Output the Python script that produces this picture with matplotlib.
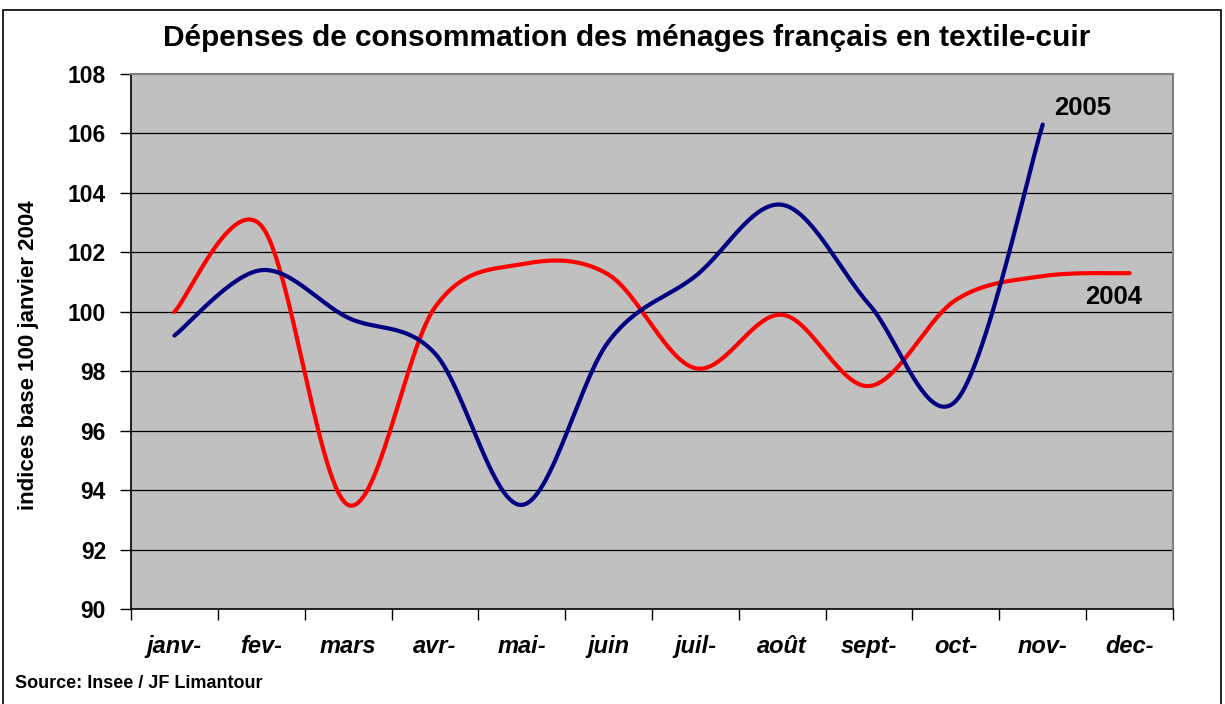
import numpy as np
import matplotlib
matplotlib.use("Agg")
import matplotlib.pyplot as plt
from matplotlib.patches import Rectangle

plt.rcParams['font.family'] = ['Liberation Sans', 'DejaVu Sans']

months = ["janv-", "fev-", "mars", "avr-", "mai-", "juin", "juil-", "août",
          "sept-", "oct-", "nov-", "dec-"]
values_2004 = [100.0, 102.9, 93.5, 100.15, 101.6, 101.25, 98.1, 99.9, 97.5, 100.4, 101.2, 101.3]
values_2005 = [99.2, 101.4, 99.8, 98.6, 93.5, 99.0, 101.2, 103.6, 100.25, 97.0, 106.3]
yticks = list(range(90, 109, 2))


def smooth(xs, ys, n=30):
    """Excel-like smoothed line (Catmull-Rom Bezier through the points)."""
    xs = np.asarray(xs, float)
    ys = np.asarray(ys, float)
    px = np.concatenate([[xs[0]], xs, [xs[-1]]])
    py = np.concatenate([[ys[0]], ys, [ys[-1]]])
    ox, oy = [], []
    t = np.linspace(0, 1, n)
    for i in range(1, len(px) - 2):
        x0, x1, x2, x3 = px[i - 1], px[i], px[i + 1], px[i + 2]
        y0, y1, y2, y3 = py[i - 1], py[i], py[i + 1], py[i + 2]
        cx1, cy1 = x1 + (x2 - x0) / 6, y1 + (y2 - y0) / 6
        cx2, cy2 = x2 - (x3 - x1) / 6, y2 - (y3 - y1) / 6
        bx = (1 - t) ** 3 * x1 + 3 * (1 - t) ** 2 * t * cx1 + 3 * (1 - t) * t ** 2 * cx2 + t ** 3 * x2
        by = (1 - t) ** 3 * y1 + 3 * (1 - t) ** 2 * t * cy1 + 3 * (1 - t) * t ** 2 * cy2 + t ** 3 * y2
        if i > 1:
            bx, by = bx[1:], by[1:]
        ox.extend(bx)
        oy.extend(by)
    return np.array(ox), np.array(oy)


W, H = 1225, 704
fig = plt.figure(figsize=(W / 100, H / 100), dpi=100)
fig.patch.set_facecolor('white')

# figure frame
fig.patches.append(Rectangle((3 / W, -0.01), (1221 - 3) / W, (H - 10) / H + 0.01,
                             transform=fig.transFigure, fill=False,
                             edgecolor='black', linewidth=1.2))

ax = fig.add_axes([131 / W, (H - 609) / H, (1173 - 131) / W, (609 - 74) / H])
ax.set_facecolor('#C0C0C0')

x04 = np.arange(len(values_2004))
x05 = np.arange(len(values_2005))
sx, sy = smooth(x04, values_2004)
ax.plot(sx, sy, color='#FF0000', linewidth=3.0, solid_capstyle='round', zorder=3)
sx, sy = smooth(x05, values_2005)
ax.plot(sx, sy, color='#000080', linewidth=3.0, solid_capstyle='round', zorder=4)

ax.set_xlim(-0.5, len(months) - 0.5)
ax.set_ylim(90, 108)
ax.set_yticks(yticks)
ax.set_yticklabels([str(v) for v in yticks], fontsize=16.5, fontweight='bold')
for v in yticks[1:-1]:
    ax.axhline(v, color='black', linewidth=0.9, zorder=1)

ax.set_xticks(np.arange(-0.5, len(months), 1.0))
ax.set_xticklabels([])
ax.set_xticks(np.arange(len(months)), minor=True)
ax.set_xticklabels(months, minor=True, fontsize=17, fontweight='bold', style='italic')
ax.tick_params(axis='x', which='minor', length=0, pad=19)
ax.tick_params(axis='x', which='major', length=8, width=1, direction='out', color='black')
ax.tick_params(axis='y', length=8, width=1, direction='out', color='black', pad=10)

for s in ['top', 'right']:
    ax.spines[s].set_color('#808080')
    ax.spines[s].set_linewidth(1.5)
for s in ['left', 'bottom']:
    ax.spines[s].set_color('black')
    ax.spines[s].set_linewidth(1.2)

ax.set_ylabel('indices base 100 janvier 2004', fontsize=16, fontweight='bold')
ax.yaxis.set_label_coords(-0.088, 0.475)

ax.text(10.46, 106.86, '2005', fontsize=18.5, fontweight='bold', ha='center', va='center')
ax.text(10.82, 100.5, '2004', fontsize=18.5, fontweight='bold', ha='center', va='center')

fig.text(627 / W, 1 - 38 / H, 'Dépenses de consommation des ménages français en textile-cuir',
         fontsize=21.5, fontweight='bold', ha='center', va='center')
fig.text(15 / W, 1 - 684 / H, 'Source: Insee / JF Limantour', fontsize=13,
         fontweight='bold', ha='left', va='center')

fig.savefig('out.png', dpi=100)
